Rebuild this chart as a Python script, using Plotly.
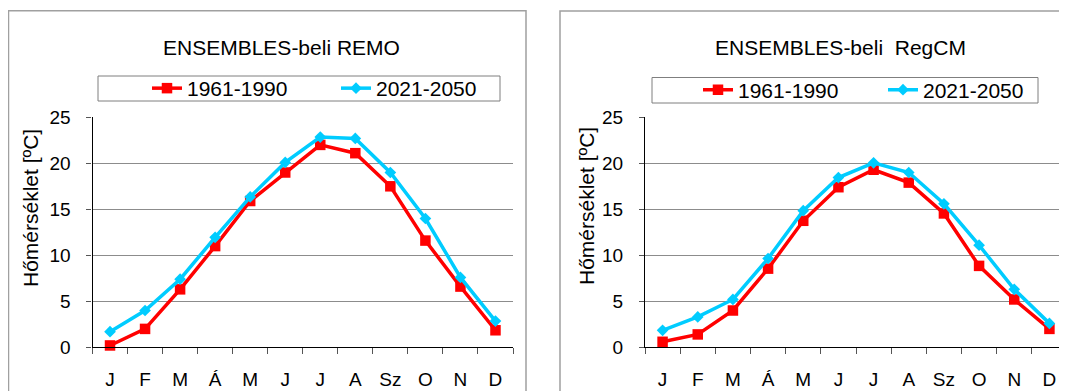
import plotly.graph_objects as go

OFF = 8  # page offset of the figure div inside the browser body
W, H = 1067 - OFF, 391 - OFF

months = ["J", "F", "M", "Á", "M ", "J ", "J  ", "A", "Sz", "O", "N", "D"]
month_labels = ["J", "F", "M", "Á", "M", "J", "J", "A", "Sz", "O", "N", "D"]

remo_1961_1990 = [0.2, 2.0, 6.3, 11.0, 15.9, 19.0, 22.0, 21.1, 17.5, 11.6, 6.6, 1.85]
remo_2021_2050 = [1.7, 4.0, 7.4, 11.95, 16.35, 20.1, 22.85, 22.7, 19.0, 14.0, 7.6, 2.85]
regcm_1961_1990 = [0.6, 1.4, 4.0, 8.55, 13.75, 17.4, 19.3, 17.9, 14.55, 8.85, 5.2, 2.0]
regcm_2021_2050 = [1.85, 3.3, 5.2, 9.65, 14.85, 18.45, 20.05, 19.0, 15.6, 11.1, 6.3, 2.6]

titles = ["ENSEMBLES-beli REMO", "ENSEMBLES-beli\u00a0 RegCM"]
series_names = ["1961-1990", "2021-2050"]
y_title = "Hőmérséklet [ºC]"

RED = "#FF0000"
CYAN = "#00CCFF"
FONT = "Liberation Sans, Arial, sans-serif"


def px(x):
    return (x - OFF) / W


def py(y):
    return 1 - (y - OFF) / H


fig = go.Figure()

panels = [
    dict(xa="x", ya="y", leg="legend", data=(remo_1961_1990, remo_2021_2050)),
    dict(xa="x2", ya="y2", leg="legend2", data=(regcm_1961_1990, regcm_2021_2050)),
]
for p in panels:
    a, b = p["data"]
    fig.add_trace(go.Scatter(x=months, y=a, name=series_names[0], mode="lines+markers",
                             line=dict(color=RED, width=3.5),
                             marker=dict(symbol="square", size=10.5, color=RED),
                             xaxis=p["xa"], yaxis=p["ya"], legend=p["leg"], cliponaxis=False))
    fig.add_trace(go.Scatter(x=months, y=b, name=series_names[1], mode="lines+markers",
                             line=dict(color=CYAN, width=3.5),
                             marker=dict(symbol="diamond", size=9, color=CYAN),
                             xaxis=p["xa"], yaxis=p["ya"], legend=p["leg"], cliponaxis=False))

xdoms = [[px(92.5), px(513)], [px(645), 1.0]]
ydom = [py(347.3), py(117.3)]

axis_common_x = dict(
    type="category", categoryorder="array", categoryarray=months,
    tickmode="array", tickvals=months, ticktext=month_labels,
    showgrid=False, showline=True, linecolor="#000000", linewidth=1.3,
    ticks="outside", ticklen=6, tickcolor="#555555", tickwidth=1,
    tickson="boundaries", ticklabelstandoff=15, automargin=False,
    tickfont=dict(family=FONT, size=19, color="#000000"),
    range=[-0.5, 11.5], fixedrange=True,
)
axis_common_y = dict(
    range=[0, 25], tickmode="linear", tick0=0, dtick=5,
    showgrid=True, gridcolor="#8c8c8c", gridwidth=1,
    showline=True, linecolor="#000000", linewidth=1.3,
    ticks="outside", ticklen=5, tickcolor="#555555",
    ticklabelstandoff=12, zeroline=False, automargin=False,
    tickfont=dict(family=FONT, size=19, color="#000000"), fixedrange=True,
)

fig.update_layout(
    xaxis=dict(domain=xdoms[0], anchor="y", **axis_common_x),
    yaxis=dict(domain=ydom, anchor="x", **axis_common_y),
    xaxis2=dict(domain=xdoms[1], anchor="y2", **axis_common_x),
    yaxis2=dict(domain=ydom, anchor="x2", **axis_common_y),
)

# panel frames (right one continues past the picture edge) and legend boxes
lx0, lx1, ly_top, ly_bot = px(8.5), px(526), py(10.7), py(430)
rx0, rx1, ry_top, ry_bot = px(560), px(1200), py(11), py(430)
shapes = [
    dict(type="rect", xref="paper", yref="paper", x0=lx0, x1=lx1, y0=ly_bot, y1=ly_top,
         line=dict(color="#a0a0a0", width=1.5), layer="below"),
    dict(type="path", xref="paper", yref="paper",
         path=f"M {rx0},{ry_bot} L {rx0},{ry_top} L {rx1},{ry_top}",
         line=dict(color="#a0a0a0", width=1.5), layer="below"),
    dict(type="rect", xref="paper", yref="paper", x0=px(98), x1=px(500), y0=py(101), y1=py(76),
         line=dict(color="#7f7f7f", width=1), layer="below"),
    dict(type="rect", xref="paper", yref="paper", x0=px(652), x1=px(1038), y0=py(103), y1=py(77.5),
         line=dict(color="#7f7f7f", width=1), layer="below"),
]

annotations = [
    dict(text=titles[0], x=px(281), y=py(48), xref="paper", yref="paper", showarrow=False,
         xanchor="center", yanchor="middle", font=dict(family=FONT, size=21, color="#000000")),
    dict(text=titles[1], x=px(840), y=py(48), xref="paper", yref="paper", showarrow=False,
         xanchor="center", yanchor="middle", font=dict(family=FONT, size=21, color="#000000")),
    dict(text=y_title, x=px(30), y=py(208), xref="paper", yref="paper", showarrow=False,
         textangle=-90, xanchor="center", yanchor="middle", font=dict(family=FONT, size=21, color="#000000")),
    dict(text=y_title, x=px(586), y=py(206), xref="paper", yref="paper", showarrow=False,
         textangle=-90, xanchor="center", yanchor="middle", font=dict(family=FONT, size=21, color="#000000")),
]

legend_common = dict(orientation="h", bgcolor="rgba(0,0,0,0)", borderwidth=0,
                     font=dict(family=FONT, size=21, color="#000000"),
                     entrywidthmode="pixels",
                     xanchor="left", yanchor="middle", tracegroupgap=0, itemwidth=30)

fig.update_layout(
    width=W, height=H,
    margin=dict(l=0, r=0, t=0, b=0, autoexpand=False),
    paper_bgcolor="#ffffff", plot_bgcolor="#ffffff",
    shapes=shapes, annotations=annotations,
    showlegend=True,
    legend=dict(x=px(147), y=py(88.5), entrywidth=144, **legend_common),
    legend2=dict(x=px(698), y=py(90), entrywidth=140, **legend_common),
)

fig.write_html("out.html", post_script="document.documentElement.style.overflow='hidden';")
